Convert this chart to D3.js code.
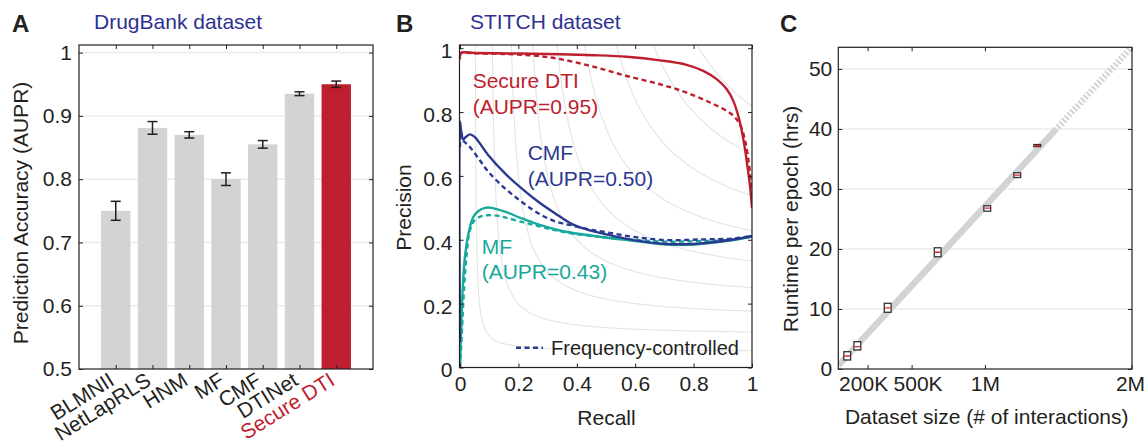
<!DOCTYPE html>
<html>
<head>
<meta charset="utf-8">
<script src="https://cdn.jsdelivr.net/npm/d3@7"></script>
<style>
  html, body { margin: 0; padding: 0; background: #fff; }
  svg { display: block; font-family: "Liberation Sans", Arial, Helvetica, sans-serif; }
  .tick text { fill: #231f20; }
</style>
</head>
<body>
<svg id="chart" width="1146" height="444"></svg>
<script>
// ---------------- Panel A data ----------------
const methods = ["BLMNII", "NetLapRLS", "HNM", "MF", "CMF", "DTINet", "Secure DTI"];
const aupr = [0.750, 0.881, 0.870, 0.800, 0.855, 0.935, 0.950];
const auprErr = [0.015, 0.010, 0.005, 0.010, 0.006, 0.003, 0.005];
const aTicks = [0.5, 0.6, 0.7, 0.8, 0.9, 1];
const aTickLabels = ["0.5", "0.6", "0.7", "0.8", "0.9", "1"];

// ---------------- Panel B data (precision-recall curves) ----------------
const secureRecall = [0, 0.003, 0.05, 0.342, 0.457, 0.571, 0.685, 0.776, 0.833, 0.879, 0.913, 0.936, 0.953, 0.965, 0.975, 0.985, 0.993, 1.0];
const securePrec   = [0.965, 0.985, 0.985, 0.981, 0.978, 0.973, 0.962, 0.948, 0.929, 0.903, 0.872, 0.835, 0.788, 0.741, 0.69, 0.625, 0.57, 0.499];
const secureFcRecall = [0, 0.003, 0.05, 0.15, 0.25, 0.342, 0.457, 0.571, 0.685, 0.776, 0.856, 0.913, 0.942, 0.962, 0.976, 0.987, 0.995, 1.0];
const secureFcPrec   = [0.975, 0.985, 0.984, 0.982, 0.977, 0.966, 0.942, 0.913, 0.887, 0.861, 0.830, 0.804, 0.783, 0.755, 0.712, 0.655, 0.59, 0.52];
const cmfRecall = [0, 0, 0.004, 0.010, 0.020, 0.034, 0.050, 0.097, 0.154, 0.211, 0.268, 0.325, 0.382, 0.439, 0.491, 0.594, 0.708, 0.799, 0.879, 0.936, 1.0];
const cmfPrec   = [0.08, 0.77, 0.74, 0.715, 0.722, 0.730, 0.722, 0.665, 0.608, 0.561, 0.519, 0.483, 0.450, 0.431, 0.419, 0.399, 0.387, 0.387, 0.394, 0.401, 0.412];
const cmfFcRecall = [0, 0.003, 0.012, 0.029, 0.068, 0.097, 0.154, 0.211, 0.268, 0.325, 0.382, 0.439, 0.491, 0.594, 0.708, 0.822, 0.936, 1.0];
const cmfFcPrec   = [0.69, 0.74, 0.71, 0.696, 0.649, 0.613, 0.561, 0.519, 0.483, 0.458, 0.445, 0.433, 0.425, 0.409, 0.399, 0.401, 0.404, 0.412];
const mfRecall = [0, 0.004, 0.010, 0.017, 0.029, 0.046, 0.063, 0.086, 0.108, 0.154, 0.211, 0.268, 0.325, 0.382, 0.439, 0.491, 0.594, 0.708, 0.799, 0.879, 0.936, 1.0];
const mfPrec   = [0, 0.12, 0.26, 0.347, 0.420, 0.472, 0.490, 0.500, 0.500, 0.488, 0.467, 0.448, 0.433, 0.422, 0.415, 0.408, 0.397, 0.385, 0.385, 0.392, 0.399, 0.410];
const mfFcRecall = [0, 0.006, 0.014, 0.023, 0.034, 0.051, 0.074, 0.097, 0.131, 0.154, 0.211, 0.268, 0.325, 0.382, 0.439, 0.491, 0.594, 0.708, 0.822, 0.936, 1.0];
const mfFcPrec   = [0, 0.10, 0.25, 0.357, 0.430, 0.462, 0.474, 0.477, 0.475, 0.470, 0.456, 0.443, 0.430, 0.420, 0.413, 0.408, 0.400, 0.394, 0.396, 0.400, 0.410];
const isoF = [0.1, 0.2, 0.3, 0.4, 0.5, 0.6, 0.7, 0.8, 0.9];
const bTicks = [0, 0.2, 0.4, 0.6, 0.8, 1];
const bTickLabels = ["0", "0.2", "0.4", "0.6", "0.8", "1"];

// ---------------- Panel C data ----------------
const datasetSize = [61e3, 130e3, 337e3, 678e3, 1016e3, 1221e3, 1357e3];
const runtimeMedian = [2.17, 3.72, 10.2, 19.45, 26.8, 32.3, 37.2];
const runtimeQ1 = [1.5, 3.17, 9.45, 18.7, 26.3, 31.9, 37.05];
const runtimeQ3 = [2.88, 4.55, 10.95, 20.2, 27.2, 32.7, 37.4];
const fitX = [0, 1.48e6];
const fitY = [0.6, 39.8];
const extX = [1.48e6, 2.0e6];
const extY = [39.8, 53.6];
const cXTicks = [200e3, 500e3, 1e6, 2e6];
const cXTickLabels = ["200K", "500K", "1M", "2M"];
const cYTicks = [0, 10, 20, 30, 40, 50];

// ---------------- styling ----------------
const INK = "#231f20";
const RED = "#be1e2d";
const BLUE = "#2b3990";
const TEAL = "#17a99a";
const BAR_GRAY = "#d1d3d4";
const GRID = "#ebebeb";
const FS = 21;

const svg = d3.select("#chart");

function box(g, x0, x1, y0, y1) {
  g.append("rect").attr("x", x0).attr("y", y0).attr("width", x1 - x0).attr("height", y1 - y0)
    .attr("fill", "none").attr("stroke", INK).attr("stroke-width", 1.2);
}
function styleAxis(sel, labels) {
  sel.select(".domain").remove();
  sel.selectAll(".tick line").attr("stroke", INK).attr("stroke-width", 1);
  sel.selectAll(".tick text").attr("font-size", FS).attr("fill", INK);
  if (labels === false) sel.selectAll(".tick text").remove();
}

// ================= Panel A =================
{
  const L = 79, R = 373, T = 45, B = 369;
  const x = d3.scaleLinear().domain([0, methods.length + 1]).range([L, R]);
  const y = d3.scaleLinear().domain([0.5, 1.012]).range([B, T]);
  const g = svg.append("g");

  g.selectAll(".grid").data(aTicks.slice(1)).join("line")
    .attr("x1", L).attr("x2", R).attr("y1", d => y(d)).attr("y2", d => y(d))
    .attr("stroke", GRID).attr("stroke-width", 1.5);

  const bw = 0.8;
  g.selectAll(".bar").data(methods).join("rect")
    .attr("x", (d, i) => x(i + 1 - bw / 2))
    .attr("width", x(bw) - x(0))
    .attr("y", (d, i) => y(aupr[i]))
    .attr("height", (d, i) => y(0.5) - y(aupr[i]))
    .attr("fill", (d, i) => i === methods.length - 1 ? RED : BAR_GRAY);

  const eb = g.selectAll(".err").data(methods).join("g");
  eb.append("line").attr("x1", (d, i) => x(i + 1)).attr("x2", (d, i) => x(i + 1))
    .attr("y1", (d, i) => y(aupr[i] - auprErr[i])).attr("y2", (d, i) => y(aupr[i] + auprErr[i]))
    .attr("stroke", INK).attr("stroke-width", 1.5);
  [-1, 1].forEach(s => {
    eb.append("line").attr("x1", (d, i) => x(i + 1) - 5).attr("x2", (d, i) => x(i + 1) + 5)
      .attr("y1", (d, i) => y(aupr[i] + s * auprErr[i])).attr("y2", (d, i) => y(aupr[i] + s * auprErr[i]))
      .attr("stroke", INK).attr("stroke-width", 1.5);
  });

  const idx = methods.map((d, i) => i + 1);
  const ax = g.append("g").attr("transform", `translate(${L},0)`)
    .call(d3.axisLeft(y).tickValues(aTicks).tickFormat((d, i) => aTickLabels[i]).tickSize(-4).tickPadding(7));
  styleAxis(ax);
  styleAxis(g.append("g").attr("transform", `translate(${R},0)`)
    .call(d3.axisRight(y).tickValues(aTicks).tickSize(-4)), false);
  styleAxis(g.append("g").attr("transform", `translate(0,${B})`)
    .call(d3.axisBottom(x).tickValues(idx).tickSize(-4)), false);
  styleAxis(g.append("g").attr("transform", `translate(0,${T})`)
    .call(d3.axisTop(x).tickValues(idx).tickSize(-4)), false);
  box(g, L, R, T, B);

  g.selectAll(".xl").data(methods).join("text")
    .attr("transform", (d, i) => `translate(${x(i + 1)},${B + 15}) rotate(-32)`)
    .attr("text-anchor", "end").attr("font-size", FS)
    .attr("fill", (d, i) => i === methods.length - 1 ? RED : INK)
    .text(d => d);

  g.append("text").attr("transform", `translate(28,213) rotate(-90)`).attr("text-anchor", "middle")
    .attr("font-size", FS).attr("fill", INK).text("Prediction Accuracy (AUPR)");
  g.append("text").attr("x", 94).attr("y", 29).attr("font-size", FS).attr("fill", "#2e3192").text("DrugBank dataset");
  g.append("text").attr("x", 12).attr("y", 32).attr("font-size", 24).attr("font-weight", "bold").attr("fill", INK).text("A");
}

// ================= Panel B =================
{
  const L = 459.5, R = 752, T = 45, B = 367.5;
  const x = d3.scaleLinear().domain([0, 1]).range([460, 752]);
  const y = d3.scaleLinear().domain([0, 1.01]).range([B, T]);
  const g = svg.append("g");
  g.append("clipPath").attr("id", "clipB").append("rect")
    .attr("x", L).attr("y", T).attr("width", R - L).attr("height", B - T);
  const plot = g.append("g").attr("clip-path", "url(#clipB)");

  // iso-F1 reference curves
  const isoLine = d3.line().x(d => x(d[0])).y(d => y(d[1]));
  isoF.forEach(f => {
    const r0 = 1.03 * f / (2.06 - f);
    const pts = d3.range(0, 201).map(k => {
      const r = r0 + (1 - r0) * Math.pow(k / 200, 1.6);
      return [r, f * r / (2 * r - f)];
    });
    plot.append("path").attr("d", isoLine(pts)).attr("fill", "none")
      .attr("stroke", "#e3e3e3").attr("stroke-width", 1.1);
  });

  const line = d3.line().x(d => x(d[0])).y(d => y(d[1])).curve(d3.curveCatmullRom.alpha(0.5));
  const series = [
    [mfFcRecall, mfFcPrec, TEAL, true],
    [mfRecall, mfPrec, TEAL, false],
    [cmfFcRecall, cmfFcPrec, BLUE, true],
    [cmfRecall, cmfPrec, BLUE, false],
    [secureFcRecall, secureFcPrec, RED, true],
    [secureRecall, securePrec, RED, false]
  ];
  series.forEach(([rs, ps, col, dashed]) => {
    plot.append("path").attr("d", line(rs.map((r, i) => [r, ps[i]])))
      .attr("fill", "none").attr("stroke", col).attr("stroke-width", 2.4)
      .attr("stroke-dasharray", dashed ? "5,3.5" : null);
  });

  const ax = g.append("g").attr("transform", `translate(${L},0)`)
    .call(d3.axisLeft(y).tickValues(bTicks).tickFormat((d, i) => bTickLabels[i]).tickSize(-4).tickPadding(7));
  styleAxis(ax);
  ax.selectAll(".tick text").attr("dy", "0.45em");
  styleAxis(g.append("g").attr("transform", `translate(${R},0)`)
    .call(d3.axisRight(y).tickValues(bTicks).tickSize(-4)), false);
  const bx = g.append("g").attr("transform", `translate(0,${B})`)
    .call(d3.axisBottom(x).tickValues(bTicks).tickFormat((d, i) => bTickLabels[i]).tickSize(-4).tickPadding(9));
  styleAxis(bx);
  styleAxis(g.append("g").attr("transform", `translate(0,${T})`)
    .call(d3.axisTop(x).tickValues(bTicks).tickSize(-4)), false);
  box(g, L, R, T, B);

  // annotations
  const ann = [
    ["Secure DTI", 472.7, 88.3, RED], ["(AUPR=0.95)", 472.7, 114, RED],
    ["CMF", 527.7, 160, BLUE], ["(AUPR=0.50)", 527.7, 185.7, BLUE],
    ["MF", 481.7, 254, TEAL], ["(AUPR=0.43)", 481.7, 279.3, TEAL]
  ];
  g.selectAll(".ann").data(ann).join("text")
    .attr("x", d => d[1]).attr("y", d => d[2]).attr("fill", d => d[3]).attr("font-size", FS).text(d => d[0]);

  // legend
  g.append("line").attr("x1", 516).attr("x2", 543).attr("y1", 347.7).attr("y2", 347.7)
    .attr("stroke", BLUE).attr("stroke-width", 2.4).attr("stroke-dasharray", "5,3.5");
  g.append("text").attr("x", 551).attr("y", 354.5).attr("font-size", 20).attr("fill", INK).text("Frequency-controlled");

  g.append("text").attr("transform", `translate(411,207.5) rotate(-90)`).attr("text-anchor", "middle")
    .attr("font-size", FS).attr("fill", INK).text("Precision");
  g.append("text").attr("x", 606.5).attr("y", 424.5).attr("text-anchor", "middle")
    .attr("font-size", FS).attr("fill", INK).text("Recall");
  g.append("text").attr("x", 470).attr("y", 29.3).attr("font-size", FS).attr("fill", "#2e3192").text("STITCH dataset");
  g.append("text").attr("x", 396).attr("y", 32).attr("font-size", 24).attr("font-weight", "bold").attr("fill", INK).text("B");
}

// ================= Panel C =================
{
  const L = 838.3, R = 1132, T = 47.3, B = 369;
  const x = d3.scaleLinear().domain([0, 2e6]).range([L, 1131.5]);
  const y = d3.scaleLinear().domain([0, 53.6]).range([B, T]);
  const g = svg.append("g");
  g.append("clipPath").attr("id", "clipC").append("rect")
    .attr("x", L).attr("y", T).attr("width", R - L).attr("height", B - T);

  g.selectAll(".grid").data(cYTicks.slice(1)).join("line")
    .attr("x1", L).attr("x2", R).attr("y1", d => y(d)).attr("y2", d => y(d))
    .attr("stroke", GRID).attr("stroke-width", 1.5);

  const plot = g.append("g").attr("clip-path", "url(#clipC)");
  const line = d3.line().x(d => x(d[0])).y(d => y(d[1]));
  plot.append("path").attr("d", line(fitX.map((v, i) => [v, fitY[i]])))
    .attr("fill", "none").attr("stroke", "#d1d3d4").attr("stroke-width", 6.5);
  plot.append("path").attr("d", line(extX.map((v, i) => [v, extY[i]])))
    .attr("fill", "none").attr("stroke", "#d1d3d4").attr("stroke-width", 6.5).attr("stroke-dasharray", "2,2");

  const bw = 6.8;
  const bxs = plot.selectAll(".bx").data(datasetSize).join("g");
  bxs.append("rect").attr("x", d => x(d) - bw / 2).attr("width", bw)
    .attr("y", (d, i) => y(runtimeQ3[i])).attr("height", (d, i) => Math.max(1, y(runtimeQ1[i]) - y(runtimeQ3[i])))
    .attr("fill", "#fff").attr("stroke", "#333").attr("stroke-width", 1.3);
  bxs.append("line").attr("x1", d => x(d) - bw / 2 + 0.8).attr("x2", d => x(d) + bw / 2 - 0.8)
    .attr("y1", (d, i) => y(runtimeMedian[i])).attr("y2", (d, i) => y(runtimeMedian[i]))
    .attr("stroke", "#e0202b").attr("stroke-width", 1.3);

  const ay = g.append("g").attr("transform", `translate(${L},0)`)
    .call(d3.axisLeft(y).tickValues(cYTicks).tickFormat(d3.format("d")).tickSize(-4).tickPadding(6));
  styleAxis(ay);
  styleAxis(g.append("g").attr("transform", `translate(${R},0)`)
    .call(d3.axisRight(y).tickValues(cYTicks).tickSize(-4)), false);
  const axb = g.append("g").attr("transform", `translate(0,${B})`)
    .call(d3.axisBottom(x).tickValues(cXTicks).tickFormat((d, i) => cXTickLabels[i]).tickSize(-4).tickPadding(7));
  styleAxis(axb);
  // nudge the two crowded labels apart, as in the reference
  const nudge = [-4.5, 6, 0, -1.5];
  axb.selectAll(".tick text").attr("dx", (d, i) => nudge[i]);
  styleAxis(g.append("g").attr("transform", `translate(0,${T})`)
    .call(d3.axisTop(x).tickValues(cXTicks).tickSize(-4)), false);
  box(g, L, R, T, B);

  g.append("text").attr("transform", `translate(797.5,219) rotate(-90)`).attr("text-anchor", "middle")
    .attr("font-size", FS).attr("fill", INK).text("Runtime per epoch (hrs)");
  g.append("text").attr("x", 986.7).attr("y", 424).attr("text-anchor", "middle")
    .attr("font-size", FS).attr("fill", INK).text("Dataset size (# of interactions)");
  g.append("text").attr("x", 780).attr("y", 32).attr("font-size", 24).attr("font-weight", "bold").attr("fill", INK).text("C");
}
</script>
</body>
</html>
